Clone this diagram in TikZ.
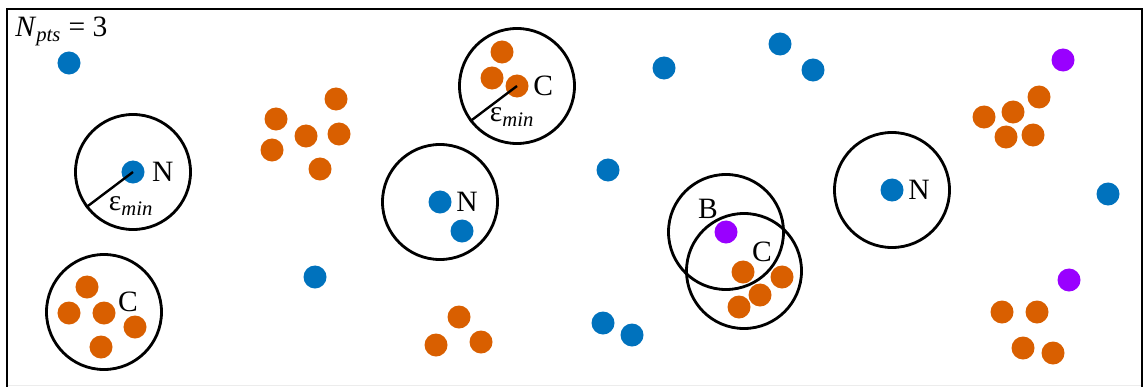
\documentclass[tikz,border=0pt]{standalone}
\usepackage{fontspec}
\setmainfont{Liberation Serif}
\usetikzlibrary{positioning}
\definecolor{ptblue}{RGB}{0,114,189}
\definecolor{ptorange}{RGB}{217,95,0}
\definecolor{ptpurple}{RGB}{153,0,255}

\begin{document}
\begin{tikzpicture}[x=0.025cm,y=-0.025cm,
        dot/.style={circle,inner sep=0pt,minimum size=0.575cm},
        noise/.style={dot,fill=ptblue},
        core/.style={dot,fill=ptorange},
        edge/.style={dot,fill=ptpurple},
        epsball/.style={circle,draw=black,line width=2pt,minimum size=2.875cm,inner sep=0pt},
        lbl/.style={font=\fontsize{21}{25}\selectfont,inner sep=0pt},
        rad/.style={line width=1.7pt}
        ]
        \useasboundingbox (0,0) rectangle (1143,387);
        \draw[gray!15,line width=1pt] (7,385.5) -- (1142,385.5);
        \draw[line width=2.1pt] (7,387) -- (7,9) -- (1142,9) -- (1142,387);
        % noise points
        \node (n1)  [noise] at (69,63)   {};
        \node (n2)  [noise] at (133,172) {};
        \node (n3)  [noise] at (315,277) {};
        \node (n4)  [noise] at (440,202) {};
        \node (n5)  [noise] at (462,231) {};
        \node (n6)  [noise] at (608,170) {};
        \node (n7)  [noise] at (664,68)  {};
        \node (n8)  [noise] at (603,323) {};
        \node (n9)  [noise] at (632,335) {};
        \node (n10) [noise] at (780,44)  {};
        \node (n11) [noise] at (813,70)  {};
        \node (n12) [noise] at (892,190) {};
        \node (n13) [noise] at (1108,194) {};
        % core points
        \node (c1)  [core] at (336,99)  {};
        \node (c2)  [core] at (276,119) {};
        \node (c3)  [core] at (306,136) {};
        \node (c4)  [core] at (339,134) {};
        \node (c5)  [core] at (272,150) {};
        \node (c6)  [core] at (320,169) {};
        \node (c7)  [core] at (87,287)  {};
        \node (c8)  [core] at (69,313)  {};
        \node (c9)  [core] at (104,313) {};
        \node (c10) [core] at (135,327) {};
        \node (c11) [core] at (101,347) {};
        \node (c12) [core] at (502,52)  {};
        \node (c13) [core] at (492,78)  {};
        \node (c14) [core] at (517,86)  {};
        \node (c15) [core] at (459,317) {};
        \node (c16) [core] at (436,345) {};
        \node (c17) [core] at (481,342) {};
        \node (c18) [core] at (743,272) {};
        \node (c19) [core] at (782,277) {};
        \node (c20) [core] at (760,295) {};
        \node (c21) [core] at (739,307) {};
        \node (c22) [core] at (1039,97)  {};
        \node (c23) [core] at (1013,112) {};
        \node (c24) [core] at (984,117)  {};
        \node (c25) [core] at (1006,137) {};
        \node (c26) [core] at (1033,135) {};
        \node (c27) [core] at (1002,312) {};
        \node (c28) [core] at (1037,312) {};
        \node (c29) [core] at (1023,348) {};
        \node (c30) [core] at (1053,353) {};
        % border points
        \node (b1) [edge] at (726,232)  {};
        \node (b2) [edge] at (1063,60)  {};
        \node (b3) [edge] at (1069,280) {};
        % neighbourhoods
        \node (e1) [epsball] at (n2)  {};
        \node (e2) [epsball] at (104,312) {};
        \node (e3) [epsball] at (c14) {};
        \node (e4) [epsball] at (n4)  {};
        \node (e5) [epsball] at (b1)  {};
        \node (e6) [epsball] at (744,271) {};
        \node (e7) [epsball] at (n12) {};
        \draw[rad] (n2.center) -- (e1.217);
        \draw[rad] (c14.center) -- (e3.217);
        % labels
        \node (npts) [lbl,anchor=base west] at (15,37) {\textit{N}\textsubscript{\textit{pts}} = 3};
        \node (l1) [lbl,right=5pt of n2]  {N};
        \node (l2) [lbl,right=3pt of n4]  {N};
        \node (l3) [lbl,right=3pt of n12] {N};
        \node (l4) [lbl,right=3pt of c14] {C};
        \node (l5) [lbl] at (128,302) {C};
        \node (l6) [lbl] at (762,252) {C};
        \node (l7) [lbl] at (708,209) {B};
        \node (r1) [lbl] at (131,206) {ε\textsubscript{\textit{min}}};
        \node (r2) [lbl] at (512,117) {ε\textsubscript{\textit{min}}};
\end{tikzpicture}
\end{document}
